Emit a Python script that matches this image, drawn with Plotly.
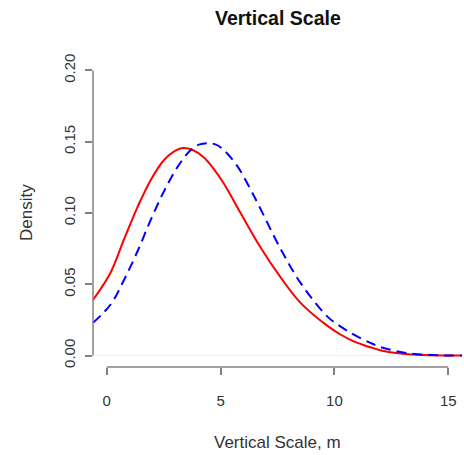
import plotly.graph_objects as go

# Data
x_red = [-0.6, 0.18, 0.76, 1.35, 1.93, 2.51, 3.0, 3.35, 3.8, 4.27, 4.7, 5.15, 5.88,
         6.75, 7.63, 8.51, 9.68, 10.26, 10.85, 11.58, 12.0, 13.0, 13.9, 15.6]
y_red = [0.039, 0.0585, 0.0815, 0.104, 0.123, 0.137, 0.1435, 0.1455, 0.144, 0.139, 0.131,
         0.1205, 0.100, 0.076, 0.055, 0.037, 0.021, 0.0148, 0.010, 0.0058, 0.0038,
         0.0013, 0.0004, 0.0]

x_blue = [-0.6, 0.18, 0.76, 1.35, 1.93, 2.51, 3.10, 3.68, 4.05, 4.42, 4.8, 5.15, 5.73,
          6.3, 6.75, 7.63, 8.51, 9.68, 10.26, 10.85, 11.58, 12.02, 13.2, 14.5, 15.6]
y_blue = [0.023, 0.036, 0.053, 0.073, 0.095, 0.115, 0.132, 0.144, 0.148, 0.149, 0.148,
          0.144, 0.133, 0.117, 0.103, 0.075, 0.051, 0.0275, 0.0205, 0.0147, 0.0089,
          0.006, 0.0017, 0.0003, 0.0]

x_ticks = [0, 5, 10, 15]
x_tick_labels = ["0", "5", "10", "15"]
y_ticks = [0.0, 0.05, 0.10, 0.15, 0.20]
y_tick_labels = ["0.00", "0.05", "0.10", "0.15", "0.20"]

title_text = "Vertical Scale"
x_title = "Vertical Scale, m"
y_title = "Density"

FONT = "Liberation Sans, Arial, sans-serif"
AXIS_COL = "#808080"
TEXT_COL = "#333333"

fig = go.Figure()
fig.add_trace(go.Scatter(x=x_red, y=y_red, mode="lines", line_shape="spline",
                         line=dict(color="#ff0000", width=2, smoothing=1.0),
                         showlegend=False))
fig.add_trace(go.Scatter(x=x_blue, y=y_blue, mode="lines", line_shape="spline",
                         line=dict(color="#0000ff", width=2, dash="10px,6px",
                                   smoothing=1.0),
                         showlegend=False))

# R-style axis lines spanning first to last tick
fig.add_shape(type="line", xref="x", yref="paper", x0=x_ticks[0], x1=x_ticks[-1],
              y0=0, y1=0, line=dict(color=AXIS_COL, width=1.5))
fig.add_shape(type="line", xref="paper", yref="y", x0=0, x1=0,
              y0=y_ticks[0], y1=y_ticks[-1], line=dict(color=AXIS_COL, width=1.5))

fig.update_layout(
    width=464, height=455,
    margin=dict(l=93, r=2, t=59, b=88),
    plot_bgcolor="white", paper_bgcolor="white",
    font=dict(family=FONT, size=16, color=TEXT_COL),
    xaxis=dict(range=[-0.6, 15.6], showgrid=False, zeroline=False, showline=False,
               tickmode="array", tickvals=x_ticks, ticktext=x_tick_labels,
               ticks="outside", ticklen=7, tickwidth=1.5, tickcolor=AXIS_COL,
               tickfont=dict(size=15, color=TEXT_COL), ticklabelstandoff=13),
    yaxis=dict(range=[-0.008, 0.208], showgrid=False, zeroline=True,
               zerolinecolor="#f0f0f0", zerolinewidth=1, showline=False,
               tickmode="array", tickvals=y_ticks, ticktext=y_tick_labels,
               ticks="outside", ticklen=7, tickwidth=1.5, tickcolor=AXIS_COL,
               tickangle=-90, tickfont=dict(size=15, color=TEXT_COL),
               ticklabelstandoff=4),
    annotations=[
        dict(text="<b>" + title_text + "</b>", xref="paper", yref="paper",
             x=0.5, y=1, yshift=41, showarrow=False,
             font=dict(size=19.5, color="#111111"), xanchor="center", yanchor="middle"),
        dict(text=x_title, xref="paper", yref="paper", x=0.5, y=0, yshift=-75,
             showarrow=False, font=dict(size=17, color=TEXT_COL),
             xanchor="center", yanchor="middle"),
        dict(text=y_title, xref="paper", yref="paper", x=0, xshift=-67, y=0.5,
             showarrow=False, textangle=-90, font=dict(size=17, color=TEXT_COL),
             xanchor="center", yanchor="middle"),
    ],
)

fig.write_html("out.html")
